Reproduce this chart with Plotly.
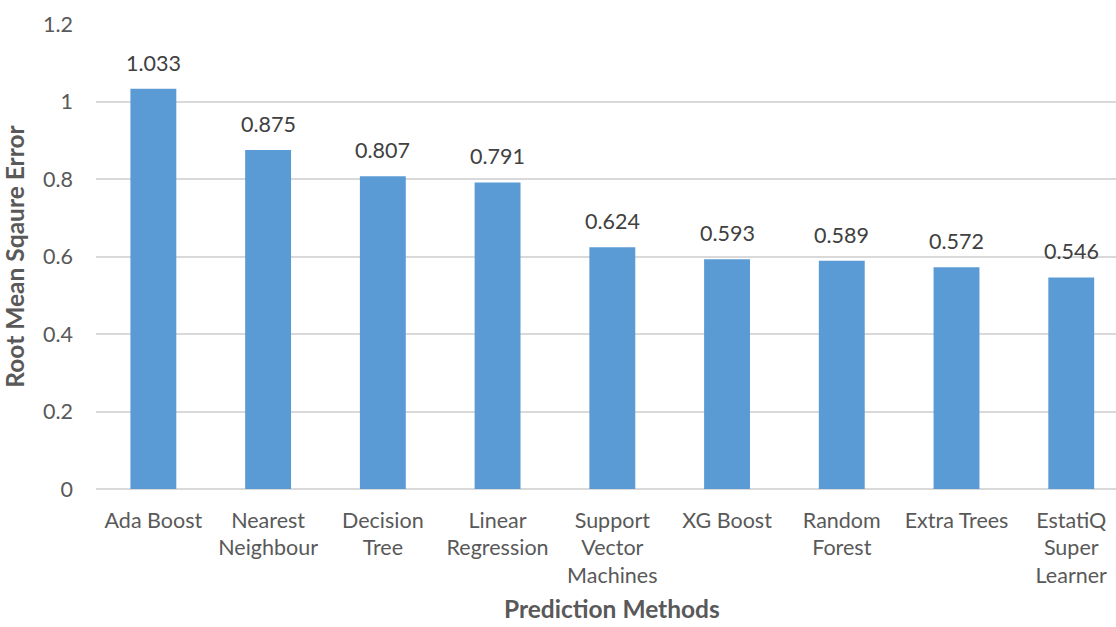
import plotly.graph_objects as go

# Model comparison: RMSE per prediction method
methods = ["Ada Boost", "Nearest<br>Neighbour", "Decision<br>Tree", "Linear<br>Regression",
           "Support<br>Vector<br>Machines", "XG Boost", "Random<br>Forest", "Extra Trees",
           "EstatiQ<br>Super<br>Learner"]
rmse = [1.033, 0.875, 0.807, 0.791, 0.624, 0.593, 0.589, 0.572, 0.546]
y_ticks = [0, 0.2, 0.4, 0.6, 0.8, 1.0, 1.2]
y_tick_text = ["0", "0.2", "0.4", "0.6", "0.8", "1", "1.2"]

FONT = "Lato, 'Open Sans', sans-serif"
GREY = "#595959"
TICK_SIZE = 21.5

x_pos = list(range(len(methods)))

fig = go.Figure(go.Bar(
    x=x_pos,
    y=rmse,
    marker=dict(color="#5B9BD5", line=dict(width=0)),
    width=0.4,
))

# value labels sitting above each bar
value_labels = [
    dict(x=xi, y=v, text=f"{v:.3f}", xref="x", yref="y",
         xanchor="center", yanchor="middle", yshift=26, showarrow=False,
         font=dict(family=FONT, size=TICK_SIZE, color="#404040"))
    for xi, v in zip(x_pos, rmse)
]

fig.update_layout(
    width=1116, height=627,
    margin=dict(l=96, r=0, t=24, b=138),
    plot_bgcolor="white", paper_bgcolor="white",
    showlegend=False,
    font=dict(family=FONT, size=TICK_SIZE, color=GREY),
    xaxis=dict(
        range=[-0.5, 8.39],
        tickmode="array", tickvals=x_pos, ticktext=methods,
        showgrid=False, zeroline=False, showline=False, ticks="",
        ticklabelstandoff=16,
        tickfont=dict(family=FONT, size=TICK_SIZE, color=GREY),
    ),
    yaxis=dict(
        range=[0, 1.2],
        tickmode="array", tickvals=y_ticks, ticktext=y_tick_text,
        showgrid=True, gridcolor="#D9D9D9", gridwidth=1.5,
        zeroline=True, zerolinecolor="#D9D9D9", zerolinewidth=2,
        showline=False, ticks="", ticklabelstandoff=22,
        tickfont=dict(family=FONT, size=TICK_SIZE, color=GREY),
        title=dict(text="<b>Root Mean Sqaure Error</b>", standoff=12,
                   font=dict(family=FONT, size=24.5, color=GREY)),
    ),
    annotations=value_labels + [dict(
        text="<b>Prediction Methods</b>", x=0.506, y=0.0,
        xref="paper", yref="paper", xanchor="center", yanchor="bottom",
        yshift=-136, showarrow=False,
        font=dict(family=FONT, size=24.5, color=GREY),
    )],
)

fig.write_html("out.html")
